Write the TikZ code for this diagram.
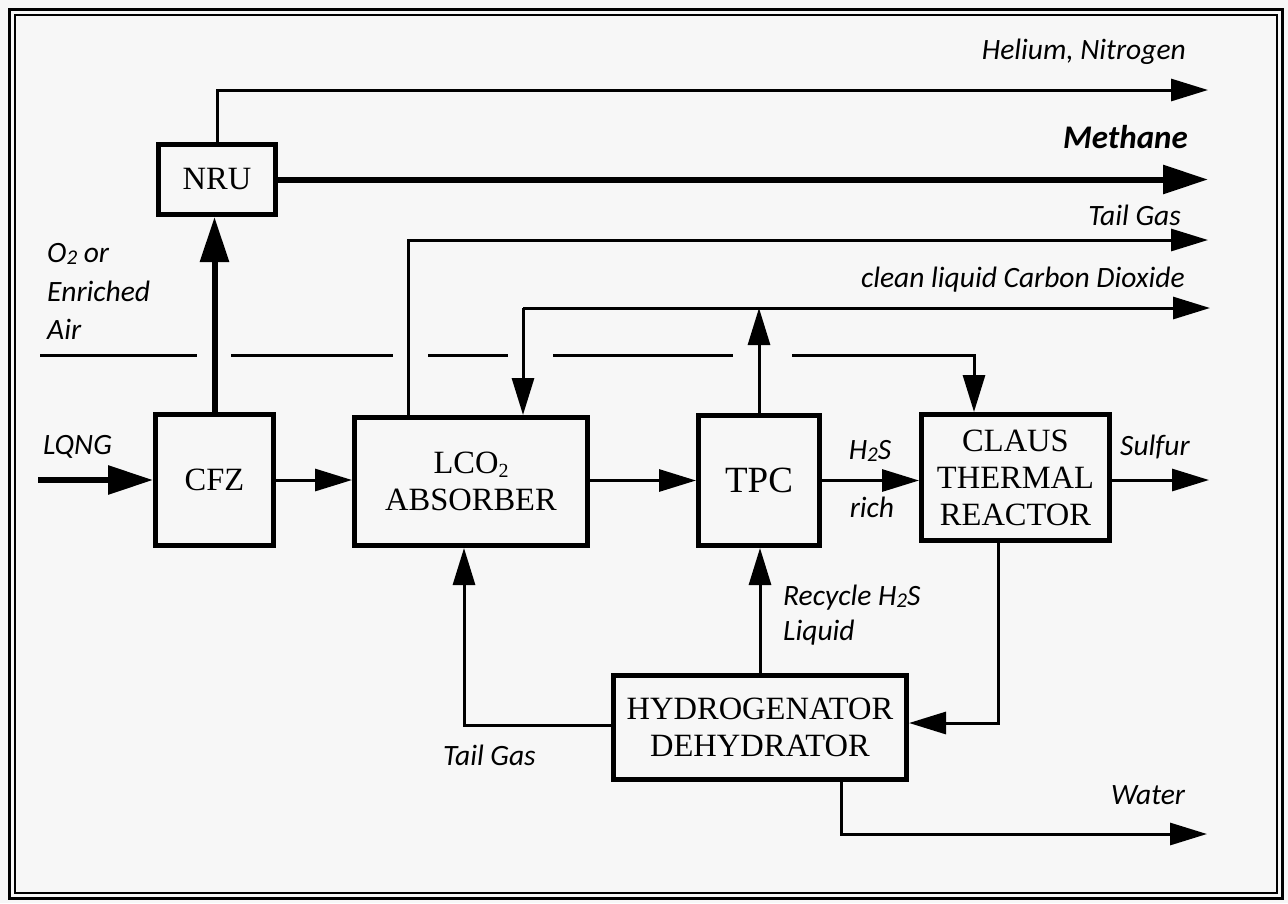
\documentclass[tikz,border=0pt]{standalone}
\usepackage{fontspec}
\setmainfont{Liberation Serif}
\newfontfamily\labfont{Carlito}
\usetikzlibrary{arrows.meta}
\definecolor{bgpaper}{HTML}{F7F7F7}
\newcommand\subtwo{\raisebox{-0.12em}{\fontsize{20}{20}\selectfont 2}}
\newcommand\labsubtwo{\raisebox{-0.05em}{\fontsize{21}{21}\selectfont 2}}
\begin{document}
\begin{tikzpicture}[x=1pt,y=-1pt,
  box/.style={draw, line width=5pt, inner sep=0pt, align=center,
    font=\fontsize{32.5}{37}\selectfont},
  thinline/.style={line width=3pt},
  thickline/.style={line width=6pt},
  arr/.style={-{Triangle[length=37pt,width=22pt]}},
  bigarr/.style={-{Triangle[length=45pt,width=28pt]}},
  lbl/.style={inner sep=0pt, font=\labfont\itshape\fontsize{29.5}{31}\selectfont},
  frameouter/.style={line width=3pt},
  frameinner/.style={line width=2pt}
]
\useasboundingbox (0,0) rectangle (1288,903);
\fill[bgpaper] (0,0) rectangle (1288,903);
\draw[frameouter] (9,9) rectangle (1282,898);
\draw[frameinner] (15,15) rectangle (1277,893);

% boxes
\node[box, minimum width=117pt, minimum height=70pt] (nru) at (217,179.5) {NRU};
\node[box, minimum width=118pt, minimum height=131pt] (cfz) at (214.5,480) {CFZ};
\node[box, minimum width=233pt, minimum height=128pt] (abs) at (471,481.5) {LCO\subtwo\\ABSORBER};
\node[box, minimum width=121pt, minimum height=130pt, font=\fontsize{37}{40}\selectfont] (tpc) at (759,480.5) {TPC};
\node[box, minimum width=188pt, minimum height=126pt] (claus) at (1015.5,477.5) {CLAUS\\THERMAL\\REACTOR};
\node[box, minimum width=293pt, minimum height=104pt] (hyd) at (760,727.5) {HYDROGENATOR\\DEHYDRATOR};

% coordinates
\coordinate (lqng) at (38,480);
\coordinate (heend) at (1208,90);
\coordinate (meend) at (1208,180);
\coordinate (tgstart) at (408,240);
\coordinate (tgend) at (1208,240);
\coordinate (co2start) at (523,308);
\coordinate (co2end) at (1210,308);
\coordinate (sulend) at (1209,480);
\coordinate (cb) at (998,723);
\coordinate (tgb) at (464,725);
\coordinate (wt) at (841,834);
\coordinate (wend) at (1207,834);
\coordinate (a1) at (40,355);
\coordinate (a2) at (197,355);
\coordinate (a3) at (231,355);
\coordinate (a4) at (393,355);
\coordinate (a5) at (428,355);
\coordinate (a6) at (508,355);
\coordinate (a7) at (553,355);
\coordinate (a8) at (733,355);
\coordinate (a9) at (792,355);
\coordinate (aturn) at (974,355);

% thick flows
\draw[thickline,bigarr] (lqng) -- (cfz.west);
\draw[thickline,bigarr] (cfz.north) -- (cfz.north |- nru.south);
\draw[thickline,bigarr] (nru.east) -- (nru.east -| meend);

% thin flows
\draw[thinline,arr] (nru.north) |- (heend);
\draw[thinline,arr] (tgstart |- abs.north) -- (tgstart) -- (tgend);
\draw[thinline,arr] (co2start) -- (co2start |- abs.north);
\draw[thinline,arr] (co2start) -- (co2end);
\draw[thinline,arr] (tpc.north) -- (tpc.north |- co2end);
\draw[thinline,arr] (cfz.east) -- (cfz.east -| abs.west);
\draw[thinline,arr] (tpc.west -| abs.east) -- (tpc.west);
\draw[thinline,arr] (tpc.east) -- (tpc.east -| claus.west);
\draw[thinline,arr] (claus.east |- sulend) -- (sulend);
\draw[thinline,arr] (cb |- claus.south) -- (cb) -- (cb -| hyd.east);
\draw[thinline,arr] (hyd.north) -- (hyd.north |- tpc.south);
\draw[thinline,arr] (tgb -| hyd.west) -- (tgb) -- (tgb |- abs.south);
\draw[thinline,arr] (wt |- hyd.south) -- (wt) -- (wend);

% air line (broken where it crosses)
\draw[thinline] (a1) -- (a2);
\draw[thinline] (a3) -- (a4);
\draw[thinline] (a5) -- (a6);
\draw[thinline] (a7) -- (a8);
\draw[thinline,arr] (a9) -- (aturn) -- (aturn |- claus.north);

% labels
\node[lbl, anchor=east] (lhe) at (1186,52) {Helium, Nitrogen};
\node[lbl, anchor=east, font=\labfont\bfseries\itshape\fontsize{33}{35}\selectfont] (lme) at (1188,137) {Methane};
\node[lbl, anchor=east] (ltg) at (1181,215) {Tail Gas};
\node[lbl, anchor=east] (lco2) at (1185,280) {clean liquid Carbon Dioxide};
\node[lbl, anchor=west] (lo2) at (47,254) {O\labsubtwo\ or};
\node[lbl, anchor=west] (len) at (47,291) {Enriched};
\node[lbl, anchor=west] (lair) at (47,329) {Air};
\node[lbl, anchor=west] (llq) at (43,447) {LQNG};
\node[lbl] (lh2s) at (870,451) {H\labsubtwo S};
\node[lbl] (lrich) at (872,507) {rich};
\node[lbl] (lsul) at (1155,447) {Sulfur};
\node[lbl, anchor=west] (lrec) at (783,598) {Recycle H\labsubtwo S};
\node[lbl, anchor=west] (lliq) at (783,633) {Liquid};
\node[lbl, anchor=west] (ltgb) at (443,755) {Tail Gas};
\node[lbl] (lwat) at (1148,795) {Water};
\end{tikzpicture}
\end{document}
